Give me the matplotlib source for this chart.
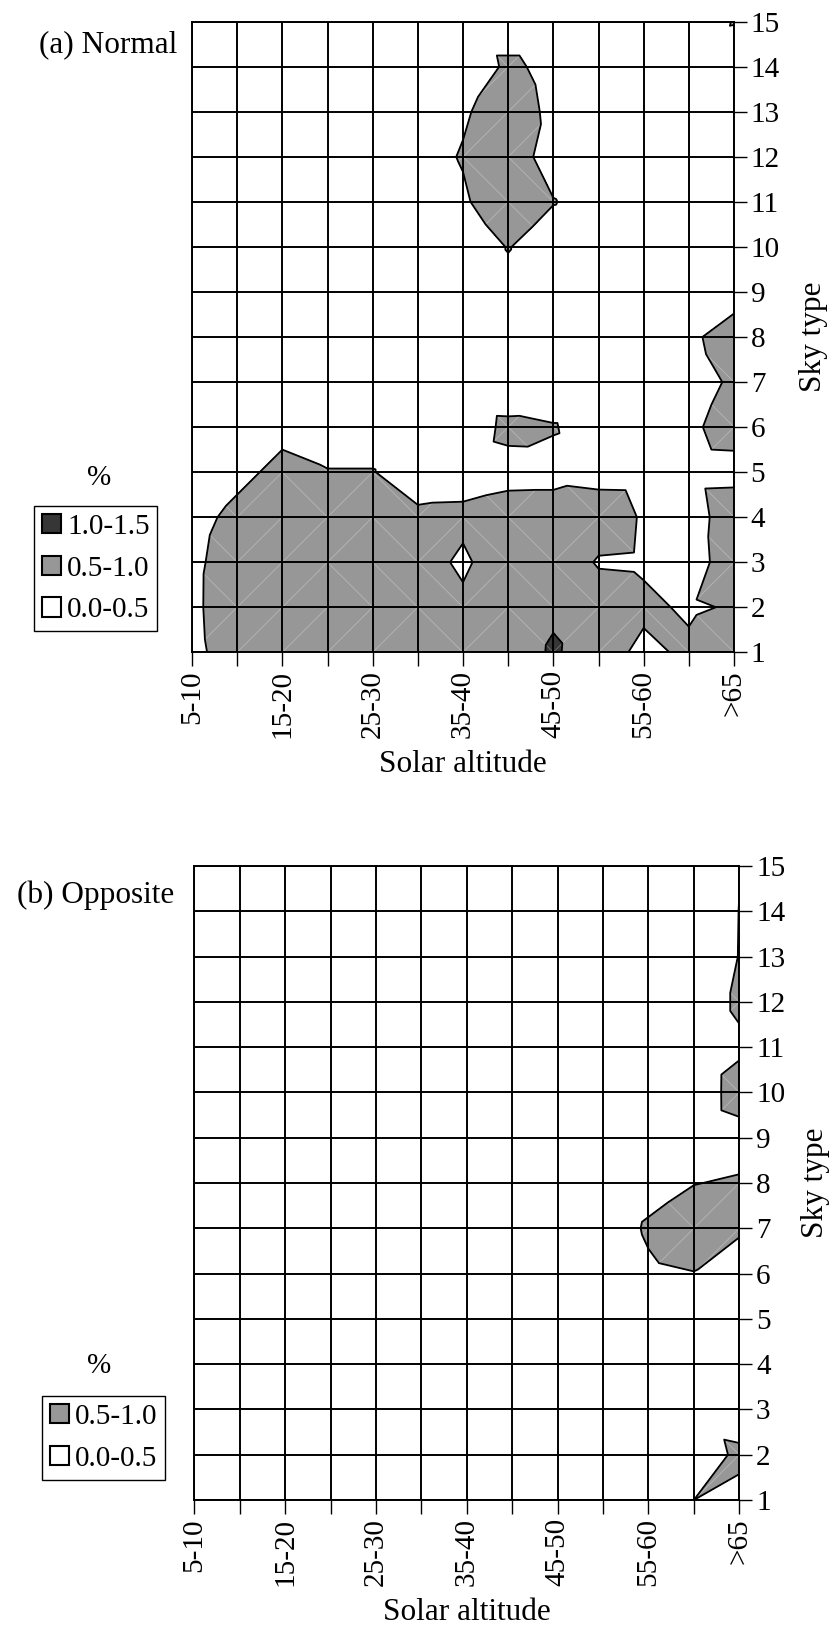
import numpy as np
import matplotlib
matplotlib.use("Agg")
import matplotlib.pyplot as plt
from matplotlib.tri import Triangulation
from matplotlib.patches import Patch

plt.rcParams['font.family'] = ['Liberation Serif', 'DejaVu Serif']

# ---------------- data ----------------
categories = ['5-10', '10-15', '15-20', '20-25', '25-30', '30-35', '35-40',
              '40-45', '45-50', '50-55', '55-60', '60-65', '>65']
sky_types = list(range(1, 16))

# (a) Normal: rows = sky type 1..15, columns = solar altitude classes
normal_1 = [0.40, 0.70, 0.75, 0.80, 0.80, 0.75, 0.70, 0.77, 1.05, 0.78, 0.356, 0.609, 0.90]
normal_2 = [0.417, 0.75, 0.80, 0.85, 0.85, 0.80, 0.60, 0.75, 0.934, 0.80, 0.623, 0.418, 0.555]
normal_3 = [0.414, 0.70, 0.80, 0.85, 0.80, 0.70, 0.42, 0.80, 0.867, 0.45, 0.418, 0.15, 0.90]
normal_4 = [0.37, 0.60, 0.75, 0.80, 0.75, 0.60, 0.61, 0.70, 0.70, 0.80, 0.447, 0.20, 0.85]
normal_5 = [0.20, 0.40, 0.60, 0.52, 0.52, 0.234, 0.29, 0.36, 0.37, 0.31, 0.30, 0.30, 0.32]
normal_6 = [0.20, 0.20, 0.40, 0.27, 0.27, 0.20, 0.24, 0.60, 0.53, 0.26, 0.20, 0.41, 0.70]
normal_7 = [0.20, 0.20, 0.20, 0.20, 0.20, 0.20, 0.20, 0.18, 0.20, 0.20, 0.20, 0.30, 0.57]
normal_8 = [0.20, 0.20, 0.20, 0.20, 0.20, 0.20, 0.20, 0.20, 0.20, 0.20, 0.20, 0.457, 0.60]
normal_9 = [0.20, 0.20, 0.20, 0.20, 0.20, 0.20, 0.20, 0.37, 0.20, 0.20, 0.20, 0.20, 0.408]
normal_10 = [0.20, 0.20, 0.20, 0.20, 0.20, 0.20, 0.20, 0.52, 0.25, 0.20, 0.20, 0.20, 0.20]
normal_11 = [0.20, 0.20, 0.20, 0.20, 0.20, 0.25, 0.44, 0.80, 0.52, 0.30, 0.20, 0.20, 0.20]
normal_12 = [0.20, 0.20, 0.20, 0.20, 0.20, 0.33, 0.53, 0.75, 0.30, 0.20, 0.20, 0.20, 0.20]
normal_13 = [0.20, 0.20, 0.20, 0.20, 0.20, 0.20, 0.45, 0.72, 0.406, 0.20, 0.20, 0.20, 0.20]
normal_14 = [0.20, 0.20, 0.20, 0.20, 0.20, 0.20, 0.10, 0.60, 0.356, 0.20, 0.20, 0.20, 0.10]
normal_15 = [0.20, 0.20, 0.20, 0.20, 0.20, 0.20, 0.20, 0.20, 0.20, 0.20, 0.20, 0.10, 0.53]

# (b) Opposite
opposite_1 = [0.20, 0.20, 0.20, 0.20, 0.20, 0.20, 0.20, 0.20, 0.20, 0.20, 0.20, 0.50, 0.30]
opposite_2 = [0.20, 0.20, 0.20, 0.20, 0.20, 0.20, 0.20, 0.20, 0.20, 0.20, 0.20, 0.05, 0.65]
opposite_3 = [0.20, 0.20, 0.20, 0.20, 0.20, 0.20, 0.20, 0.20, 0.20, 0.20, 0.20, 0.20, 0.07]
opposite_4 = [0.20, 0.20, 0.20, 0.20, 0.20, 0.20, 0.20, 0.20, 0.20, 0.20, 0.20, 0.20, 0.20]
opposite_5 = [0.20, 0.20, 0.20, 0.20, 0.20, 0.20, 0.20, 0.20, 0.20, 0.20, 0.20, 0.20, 0.20]
opposite_6 = [0.20, 0.20, 0.20, 0.20, 0.20, 0.20, 0.20, 0.20, 0.20, 0.20, 0.44, 0.49, 0.10]
opposite_7 = [0.20, 0.20, 0.20, 0.20, 0.20, 0.20, 0.20, 0.20, 0.20, 0.26, 0.55, 0.70, 0.60]
opposite_8 = [0.20, 0.20, 0.20, 0.20, 0.20, 0.20, 0.20, 0.20, 0.20, 0.20, 0.35, 0.49, 0.54]
opposite_9 = [0.20, 0.20, 0.20, 0.20, 0.20, 0.20, 0.20, 0.20, 0.20, 0.20, 0.20, 0.20, 0.333]
opposite_10 = [0.20, 0.20, 0.20, 0.20, 0.20, 0.20, 0.20, 0.20, 0.20, 0.20, 0.20, 0.205, 0.696]
opposite_11 = [0.20, 0.20, 0.20, 0.20, 0.20, 0.20, 0.20, 0.20, 0.20, 0.20, 0.20, 0.20, 0.42]
opposite_12 = [0.20, 0.20, 0.20, 0.20, 0.20, 0.20, 0.20, 0.20, 0.20, 0.20, 0.20, 0.20, 0.575]
opposite_13 = [0.20, 0.20, 0.20, 0.20, 0.20, 0.20, 0.20, 0.20, 0.20, 0.20, 0.20, 0.20, 0.51]
opposite_14 = [0.20, 0.20, 0.20, 0.20, 0.20, 0.20, 0.20, 0.20, 0.20, 0.20, 0.20, 0.20, 0.505]
opposite_15 = [0.20, 0.20, 0.20, 0.20, 0.20, 0.20, 0.20, 0.20, 0.20, 0.20, 0.20, 0.20, 0.49]

normal = np.array([normal_1, normal_2, normal_3, normal_4, normal_5, normal_6, normal_7,
                   normal_8, normal_9, normal_10, normal_11, normal_12, normal_13,
                   normal_14, normal_15])
opposite = np.array([opposite_1, opposite_2, opposite_3, opposite_4, opposite_5, opposite_6,
                     opposite_7, opposite_8, opposite_9, opposite_10, opposite_11,
                     opposite_12, opposite_13, opposite_14, opposite_15])

levels_a = [0.0, 0.5, 1.0, 1.5]
labels_a = ['0.0-0.5', '0.5-1.0', '1.0-1.5']
levels_b = [0.0, 0.5, 1.0]
labels_b = ['0.0-0.5', '0.5-1.0']
fill_colors = ['#ffffff', '#979797', '#363636']


def build_triangulation(Z):
    ny, nx = Z.shape
    X, Y = np.meshgrid(np.arange(nx), np.array(sky_types[:ny]))
    tris = []
    diags = []
    for j in range(ny - 1):
        for i in range(nx - 1):
            a = j * nx + i
            b = j * nx + i + 1
            c = (j + 1) * nx + i
            d = (j + 1) * nx + i + 1
            if Z[j, i] + Z[j + 1, i + 1] >= Z[j + 1, i] + Z[j, i + 1]:
                tris += [[a, b, d], [a, d, c]]
                diags.append((a, d))
            else:
                tris += [[a, b, c], [b, d, c]]
                diags.append((b, c))
    return Triangulation(X.ravel(), Y.ravel(), np.array(tris)), diags


def draw_panel(ax, Z, levels):
    tri, diags = build_triangulation(Z)
    ax.tricontourf(tri, Z.ravel(), levels=levels,
                   colors=fill_colors[:len(levels) - 1], zorder=1)
    # faint seams between triangles (visible only in shaded parts)
    xs, ys = tri.x, tri.y
    for p, q in diags:
        ax.plot([xs[p], xs[q]], [ys[p], ys[q]], color='white', alpha=0.3,
                lw=0.6, zorder=1.5)
    ax.tricontour(tri, Z.ravel(), levels=levels[1:-1], colors='black',
                  linewidths=1.3, zorder=2)

    ax.set_xlim(0, len(categories) - 1)
    ax.set_ylim(sky_types[0], sky_types[-1])
    ax.set_xticks(range(len(categories)))
    ax.set_xticklabels([c if k % 2 == 0 else '' for k, c in enumerate(categories)],
                       rotation=90, fontsize=21)
    ax.set_yticks(sky_types)
    ax.set_yticklabels([str(s) for s in sky_types], fontsize=21)
    ax.yaxis.tick_right()
    ax.tick_params(axis='y', which='both', left=False, right=True, labelleft=False,
                   labelright=True, length=9, width=1.0, pad=3)
    ax.tick_params(axis='x', length=10, width=1.0, pad=3)
    ax.grid(True, color='black', linewidth=1.4)
    ax.set_axisbelow(False)
    for sp in ax.spines.values():
        sp.set_color('black')
        sp.set_linewidth(1.4)
        sp.set_zorder(3)

    ax.set_xlabel('Solar altitude', fontsize=22.5)
    ax.set_ylabel('Sky type', fontsize=22.5)
    ax.yaxis.set_label_position('right')


fig = plt.figure(figsize=(8.30, 16.28), dpi=100)

W, H = 830.0, 1628.0
# panel (a)
axa = fig.add_axes([192 / W, 1 - 652.3 / H, (734 - 192) / W, (652.3 - 21.7) / H])
draw_panel(axa, normal, levels_a)
axa.xaxis.label.set_va('center')
axa.xaxis.set_label_coords(0.5, -(764 - 652.3) / (652.3 - 21.7))
axa.yaxis.label.set_va('center')
axa.yaxis.label.set_ha('center')
axa.yaxis.set_label_coords((813 - 192) / (734 - 192), 0.5)

# panel (b)
axb = fig.add_axes([194.3 / W, 1 - 1500 / H, (739.3 - 194.3) / W, (1500 - 866) / H])
draw_panel(axb, opposite, levels_b)
axb.xaxis.label.set_va('center')
axb.xaxis.set_label_coords(0.5, -(1613 - 1500) / (1500 - 866))
axb.yaxis.label.set_va('center')
axb.yaxis.label.set_ha('center')
axb.yaxis.set_label_coords((815 - 194.3) / (739.3 - 194.3), 0.5)


# legends
def add_legend(ax, labels, n_colors, anchor_px):
    handles = [Patch(facecolor=fill_colors[k], edgecolor='black', linewidth=1.5,
                     label=labels[k]) for k in range(n_colors - 1, -1, -1)]
    leg = ax.legend(handles=handles, loc='upper left',
                    bbox_to_anchor=(anchor_px[0] / W, 1 - anchor_px[1] / H),
                    bbox_transform=fig.transFigure, fontsize=21, frameon=True,
                    fancybox=False, edgecolor='black', framealpha=1,
                    handlelength=0.65, handleheight=0.65, handletextpad=0.2,
                    labelspacing=0.54, borderpad=0.27, borderaxespad=0)
    leg.get_frame().set_linewidth(1.0)
    return leg


add_legend(axa, labels_a, 3, (34.3, 506))
add_legend(axb, labels_b, 2, (42.3, 1396))

fig.text(99 / W, 1 - 478 / H, '%', ha='center', va='center', fontsize=21)
fig.text(99 / W, 1 - 1366 / H, '%', ha='center', va='center', fontsize=21)

fig.text(177 / W, 1 - 52 / H, '(a) Normal', ha='right', va='baseline', fontsize=22.5)
fig.text(174 / W, 1 - 903 / H, '(b) Opposite', ha='right', va='baseline', fontsize=22.5)

fig.savefig('out.png', dpi=100, facecolor='white')
